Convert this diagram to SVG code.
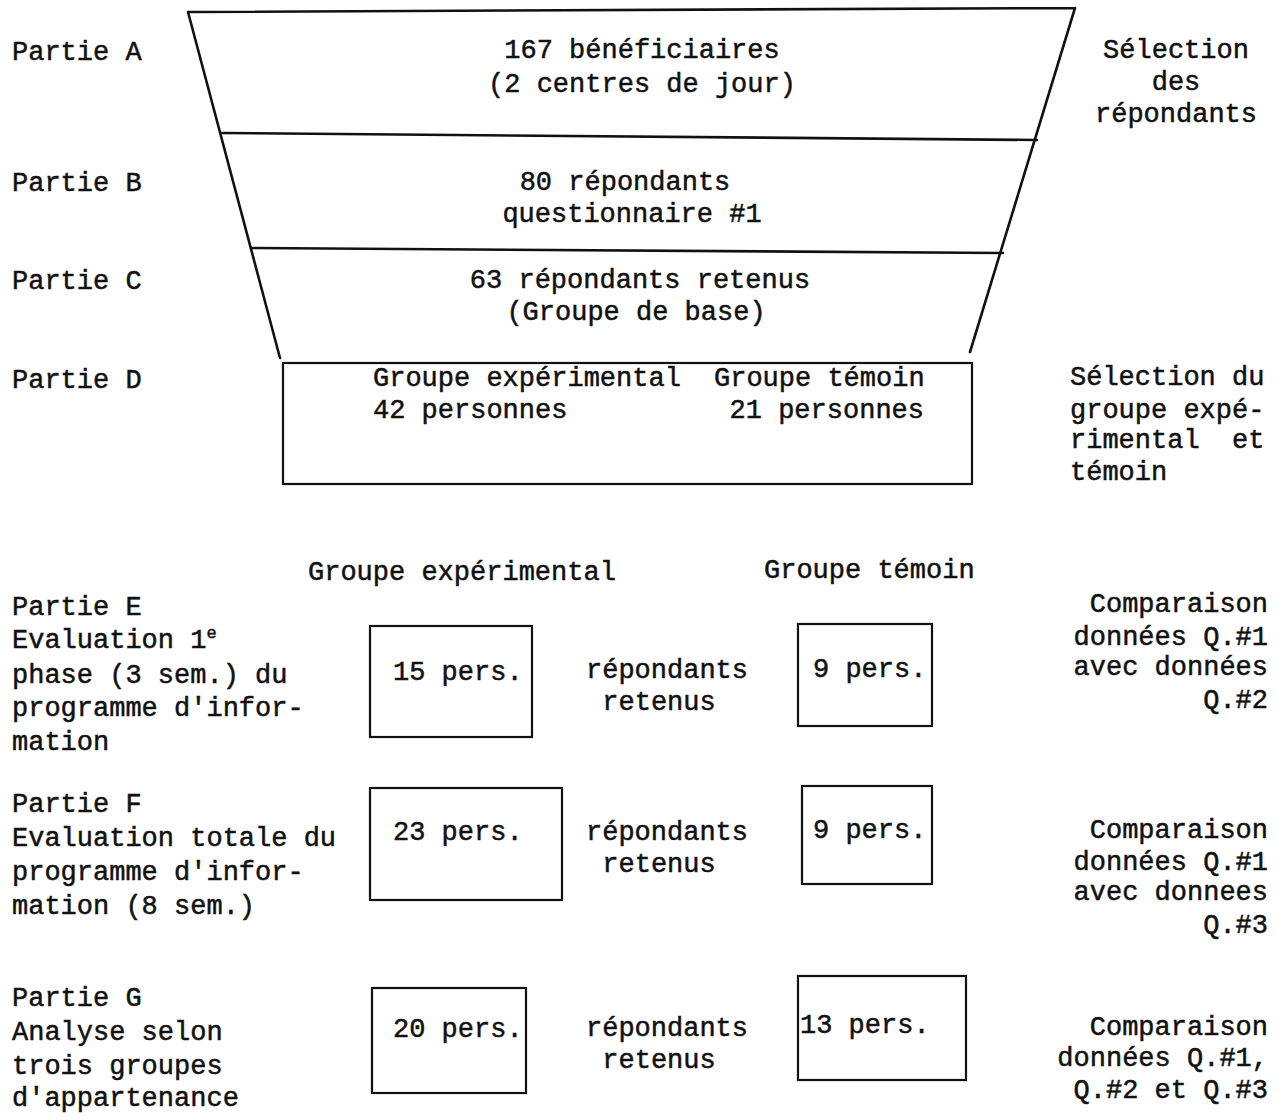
<svg xmlns="http://www.w3.org/2000/svg" width="1282" height="1120" viewBox="0 0 1282 1120">
<style>
  text { font-family: "Liberation Mono", "Courier New", monospace; font-size: 27px; fill: #111; stroke: #111; stroke-width: 0.5; }
  .c { text-anchor: middle; }
  .r { text-anchor: end; }
  .ln { stroke: #111; stroke-width: 2.6; fill: none; stroke-linecap: round; }
  .bx { stroke: #111; stroke-width: 2.2; fill: none; }
  .sup { font-size: 17px; }
</style>
<rect width="1282" height="1120" fill="#fff"/>

<g id="funnel">
  <path class="ln" d="M188,12 L1075,8 M188,12 L280,358 M1075,8 L970,352 M222,133 L1037,140 M252,248 L1003,253"/>
</g>

<g id="labels-left">
  <text x="12" y="60">Partie A</text>
  <text x="12" y="191">Partie B</text>
  <text x="12" y="289">Partie C</text>
  <text x="12" y="388">Partie D</text>
</g>

<g id="partA">
  <text class="c" x="642" y="58">167 bénéficiaires</text>
  <text class="c" x="642" y="92">(2 centres de jour)</text>
</g>
<g id="partB">
  <text class="c" x="625" y="190">80 répondants</text>
  <text class="c" x="632" y="222">questionnaire #1</text>
</g>
<g id="partC">
  <text class="c" x="640" y="288">63 répondants retenus</text>
  <text class="c" x="636" y="320">(Groupe de base)</text>
</g>

<g id="partD">
  <rect class="bx" x="283" y="363" width="689" height="121"/>
  <text x="373" y="386">Groupe expérimental</text>
  <text x="714" y="386">Groupe témoin</text>
  <text x="373" y="418">42 personnes</text>
  <text class="r" x="924" y="418">21 personnes</text>
</g>

<g id="selection-repondants">
  <text class="c" x="1176" y="58">Sélection</text>
  <text class="c" x="1176" y="90">des</text>
  <text class="c" x="1176" y="122">répondants</text>
</g>
<g id="selection-groupe">
  <text x="1070" y="385" xml:space="preserve">Sélection du</text>
  <text x="1070" y="418" xml:space="preserve">groupe expé-</text>
  <text x="1070" y="448" xml:space="preserve">rimental  et</text>
  <text x="1070" y="480">témoin</text>
</g>

<g id="headers">
  <text x="308" y="580">Groupe expérimental</text>
  <text x="764" y="578">Groupe témoin</text>
</g>

<g id="partE">
  <text x="12" y="615">Partie E</text>
  <text x="12" y="648">Evaluation 1<tspan class="sup" dy="-10">e</tspan></text>
  <text x="12" y="683">phase (3 sem.) du</text>
  <text x="12" y="716">programme d'infor-</text>
  <text x="12" y="750">mation</text>
  <rect class="bx" x="370" y="626" width="162" height="111"/>
  <text x="393" y="680">15 pers.</text>
  <text class="c" x="667" y="678">répondants</text>
  <text class="c" x="659" y="710">retenus</text>
  <rect class="bx" x="798" y="624" width="134" height="102"/>
  <text x="813" y="677">9 pers.</text>
  <text class="r" x="1268" y="612">Comparaison</text>
  <text class="r" x="1268" y="645">données Q.#1</text>
  <text class="r" x="1268" y="675">avec données</text>
  <text class="r" x="1268" y="708">Q.#2</text>
</g>

<g id="partF">
  <text x="12" y="812">Partie F</text>
  <text x="12" y="846">Evaluation totale du</text>
  <text x="12" y="880">programme d'infor-</text>
  <text x="12" y="914">mation (8 sem.)</text>
  <rect class="bx" x="370" y="788" width="192" height="112"/>
  <text x="393" y="840">23 pers.</text>
  <text class="c" x="667" y="840">répondants</text>
  <text class="c" x="659" y="872">retenus</text>
  <rect class="bx" x="802" y="786" width="130" height="98"/>
  <text x="813" y="838">9 pers.</text>
  <text class="r" x="1268" y="838">Comparaison</text>
  <text class="r" x="1268" y="870">données Q.#1</text>
  <text class="r" x="1268" y="900">avec donnees</text>
  <text class="r" x="1268" y="933">Q.#3</text>
</g>

<g id="partG">
  <text x="12" y="1006">Partie G</text>
  <text x="12" y="1040">Analyse selon</text>
  <text x="12" y="1074">trois groupes</text>
  <text x="12" y="1106">d'appartenance</text>
  <rect class="bx" x="372" y="988" width="154" height="105"/>
  <text x="393" y="1037">20 pers.</text>
  <text class="c" x="667" y="1036">répondants</text>
  <text class="c" x="659" y="1068">retenus</text>
  <rect class="bx" x="798" y="976" width="168" height="104"/>
  <text x="800" y="1033">13 pers.</text>
  <text class="r" x="1268" y="1035">Comparaison</text>
  <text class="r" x="1268" y="1066">données Q.#1,</text>
  <text class="r" x="1268" y="1098">Q.#2 et Q.#3</text>
</g>

<g id="connectors"></g>
</svg>
